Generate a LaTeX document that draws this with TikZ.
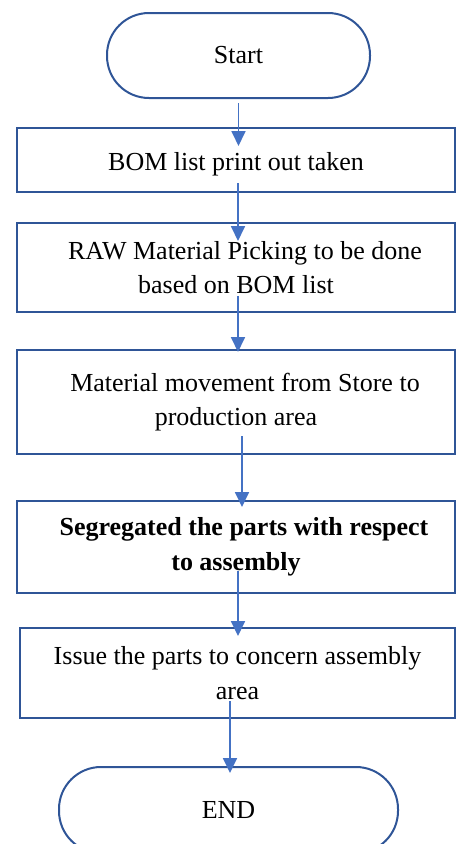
\documentclass[tikz,border=0pt]{standalone}
\usepackage{fontspec}
\setmainfont{Liberation Serif}
\usetikzlibrary{arrows.meta}
\definecolor{boxblue}{RGB}{47,85,151}
\definecolor{arrblue}{RGB}{68,114,196}
\begin{document}
\begin{tikzpicture}[x=1pt,y=1pt,
  txt/.style={font=\fontsize{26}{34.5}\selectfont, align=center, inner sep=0pt, text=black},
  box/.style={txt, draw=boxblue, line width=2pt, rectangle},
  term/.style={txt, draw=boxblue, line width=2pt, rounded corners=42pt},
  arr/.style={draw=arrblue, line width=1.8pt, -{Triangle[length=15pt,width=14pt]}}]
\clip (0,0) rectangle (456,-844);
\node[term, minimum width=263pt, minimum height=85pt] (start) at (238.5,-55.5) {Start};
\node[box, minimum width=438pt, minimum height=64pt] (b1) at (236,-160) {\raisebox{-4pt}[\height][\depth]{BOM list print out taken}};
\node[box, minimum width=438pt, minimum height=89pt] (b2) at (236,-267.5) {\hspace*{18pt}RAW Material Picking to be done\\based on BOM list};
\node[box, minimum width=438pt, minimum height=104pt] (b3) at (236,-402) {\hspace*{18pt}Material movement from Store to\\production area};
\node[box, minimum width=438pt, minimum height=92pt] (b4) at (236,-547) {\hspace*{16pt}\textbf{Segregated the parts with respect}\\\textbf{to assembly}};
\node[box, minimum width=435pt, minimum height=90pt] (b5) at (237.5,-673) {Issue the parts to concern assembly\\area};
\node[term, minimum width=339pt, minimum height=86pt] (stop) at (228.5,-810) {END};
\draw[arr] ([shift={(0,-4)}]start.south) -- ([shift={(2.5,-19)}]b1.north);
\draw[arr] ([shift={(2,10)}]b1.south) -- ([shift={(2,-19)}]b2.north);
\draw[arr] ([shift={(2,17)}]b2.south) -- ([shift={(2,-3)}]b3.north);
\draw[arr] ([shift={(6,19)}]b3.south) -- ([shift={(6,-7)}]b4.north);
\draw[arr] ([shift={(2,23)}]b4.south) -- ([shift={(0.5,-9)}]b5.north);
\draw[arr] ([shift={(-7.5,18)}]b5.south) -- ([shift={(1.5,-7)}]stop.north);
\end{tikzpicture}
\end{document}
